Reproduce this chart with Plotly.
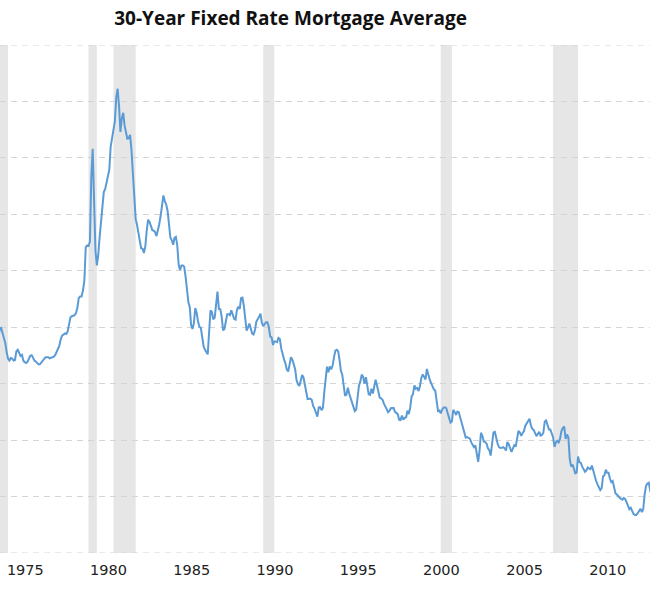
import plotly.graph_objects as go
import pandas as pd

# Monthly 30-year fixed mortgage rate averages (%), Jan 1974 .. Dec 2013
start_month = "1974-01-01"
rates = [
    8.54, 8.46, 8.41, 8.58, 8.97, 9.09, 9.28, 9.59, 9.96, 9.98, 9.79, 9.62,  # 1974
    9.43, 9.10, 8.89, 8.82, 8.91, 8.89, 8.82, 8.84, 9.15, 9.20, 9.05, 8.98,  # 1975
    9.02, 8.81, 8.76, 8.73, 8.77, 8.92, 8.99, 9.01, 8.91, 8.82, 8.78, 8.73,  # 1976
    8.68, 8.69, 8.75, 8.82, 8.86, 8.94, 8.94, 8.94, 8.90, 8.92, 8.92, 8.96,  # 1977
    9.02, 9.15, 9.20, 9.35, 9.57, 9.71, 9.74, 9.78, 9.76, 9.86, 10.11, 10.35,  # 1978
    10.39, 10.41, 10.43, 10.50, 10.69, 11.04, 11.09, 11.09, 11.30, 11.64, 12.83, 12.90,  # 1979
    12.88, 13.04, 15.28, 16.32, 14.26, 12.71, 12.19, 12.56, 13.20, 13.79, 14.21, 14.79,  # 1980
    14.90, 15.13, 15.40, 15.58, 16.40, 16.70, 16.83, 17.29, 18.16, 18.45, 17.83, 16.92,  # 1981
    17.40, 17.60, 17.16, 16.89, 16.68, 16.70, 16.82, 16.27, 15.43, 14.61, 13.83, 13.62,  # 1982
    13.25, 13.04, 12.80, 12.78, 12.63, 12.87, 13.42, 13.81, 13.73, 13.54, 13.44, 13.42,  # 1983
    13.37, 13.23, 13.39, 13.65, 13.94, 14.42, 14.67, 14.47, 14.35, 14.13, 13.64, 13.18,  # 1984
    13.08, 12.92, 13.17, 13.20, 12.91, 12.22, 12.03, 12.19, 12.19, 12.14, 11.78, 11.26,  # 1985
    10.88, 10.71, 10.08, 9.94, 10.14, 10.68, 10.51, 10.20, 10.01, 9.98, 9.70, 9.32,  # 1986
    9.20, 9.08, 9.04, 9.83, 10.60, 10.54, 10.28, 10.33, 10.89, 11.26, 10.65, 10.64,  # 1987
    10.38, 9.89, 9.93, 10.20, 10.46, 10.46, 10.43, 10.60, 10.48, 10.30, 10.27, 10.61,  # 1988
    10.73, 10.65, 11.03, 11.05, 10.77, 10.20, 9.88, 9.99, 10.13, 9.95, 9.77, 9.74,  # 1989
    9.90, 10.20, 10.27, 10.37, 10.48, 10.16, 10.04, 10.10, 10.18, 10.18, 10.01, 9.67,  # 1990
    9.64, 9.37, 9.50, 9.49, 9.47, 9.62, 9.58, 9.24, 9.01, 8.86, 8.71, 8.50,  # 1991
    8.43, 8.76, 8.94, 8.85, 8.67, 8.51, 8.13, 7.98, 7.92, 8.09, 8.31, 8.22,  # 1992
    7.92, 7.71, 7.46, 7.46, 7.47, 7.42, 7.21, 7.11, 6.92, 6.83, 7.16, 7.17,  # 1993
    7.06, 7.15, 7.68, 8.32, 8.60, 8.40, 8.61, 8.51, 8.64, 8.93, 9.17, 9.20,  # 1994
    9.15, 8.83, 8.46, 8.32, 7.96, 7.57, 7.61, 7.86, 7.64, 7.48, 7.38, 7.20,  # 1995
    7.03, 7.08, 7.62, 7.93, 8.07, 8.32, 8.25, 8.00, 8.23, 7.92, 7.62, 7.60,  # 1996
    7.82, 7.65, 7.90, 8.14, 7.94, 7.69, 7.50, 7.48, 7.43, 7.29, 7.21, 7.10,  # 1997
    6.99, 7.04, 7.13, 7.14, 7.14, 7.00, 6.95, 6.92, 6.72, 6.71, 6.87, 6.72,  # 1998
    6.79, 6.81, 7.04, 6.92, 7.15, 7.55, 7.63, 7.94, 7.82, 7.85, 7.74, 7.91,  # 1999
    8.21, 8.33, 8.24, 8.15, 8.52, 8.29, 8.15, 8.03, 7.91, 7.80, 7.75, 7.38,  # 2000
    7.03, 7.05, 6.95, 7.08, 7.15, 7.16, 7.13, 6.95, 6.82, 6.62, 6.66, 7.07,  # 2001
    7.00, 6.89, 7.01, 6.99, 6.81, 6.65, 6.49, 6.29, 6.09, 6.11, 6.07, 6.05,  # 2002
    5.92, 5.84, 5.75, 5.81, 5.48, 5.23, 5.63, 6.26, 6.15, 5.95, 5.93, 5.88,  # 2003
    5.71, 5.64, 5.45, 5.83, 6.27, 6.29, 6.06, 5.87, 5.75, 5.72, 5.73, 5.75,  # 2004
    5.71, 5.63, 5.93, 5.86, 5.72, 5.58, 5.70, 5.82, 5.77, 6.07, 6.33, 6.27,  # 2005
    6.15, 6.25, 6.32, 6.51, 6.60, 6.68, 6.76, 6.52, 6.40, 6.36, 6.24, 6.14,  # 2006
    6.22, 6.29, 6.16, 6.18, 6.26, 6.66, 6.70, 6.57, 6.38, 6.38, 6.21, 6.10,  # 2007
    5.76, 5.92, 5.97, 5.92, 6.04, 6.32, 6.43, 6.48, 6.04, 6.20, 6.09, 5.33,  # 2008
    5.06, 5.13, 5.00, 4.81, 4.86, 5.42, 5.22, 5.19, 5.06, 4.95, 4.88, 4.93,  # 2009
    5.03, 4.99, 4.97, 5.10, 4.89, 4.74, 4.56, 4.43, 4.35, 4.23, 4.30, 4.71,  # 2010
    4.76, 4.95, 4.84, 4.84, 4.64, 4.51, 4.55, 4.27, 4.11, 4.07, 3.99, 3.96,  # 2011
    3.92, 3.89, 3.95, 3.91, 3.80, 3.68, 3.55, 3.60, 3.50, 3.38, 3.35, 3.35,  # 2012
    3.41, 3.53, 3.57, 3.45, 3.54, 4.07, 4.37, 4.46, 4.49, 4.22, 4.26, 4.46,  # 2013
]
dates = pd.date_range(start_month, periods=len(rates), freq="MS")

# NBER recessions
recession_starts = ["1973-11-01", "1980-01-01", "1981-07-01", "1990-07-01", "2001-03-01", "2007-12-01"]
recession_ends = ["1975-03-01", "1980-07-01", "1982-11-01", "1991-03-01", "2001-11-01", "2009-06-01"]

tick_years = [1975, 1980, 1985, 1990, 1995, 2000, 2005, 2010]
y_min, y_max = 2, 20

fig = go.Figure()
fig.add_trace(go.Scatter(
    x=dates, y=rates, mode="lines",
    line=dict(color="#5b9bd5", width=2),
    hoverinfo="skip", showlegend=False,
))

for s, e in zip(recession_starts, recession_ends):
    fig.add_shape(type="rect", xref="x", yref="paper", x0=s, x1=e, y0=0, y1=1,
                  fillcolor="#e6e6e6", line=dict(width=0), layer="below")

# dashed grid lines at the plot's top and bottom edges
for yv in (y_min, y_max):
    fig.add_shape(type="line", xref="paper", yref="y", x0=0, x1=1, y0=yv, y1=yv,
                  line=dict(color="#d4d4d4", width=1, dash="6px,5px"), layer="below")

fig.update_layout(
    width=650, height=600,
    margin=dict(l=0, r=0, t=45, b=47, autoexpand=False),
    paper_bgcolor="white", plot_bgcolor="white",
    title=dict(text="<b>30-Year Fixed Rate Mortgage Average</b>", x=0.447, xanchor="center",
               y=0.97, yanchor="middle", yref="container",
               font=dict(family="Open Sans", size=19, color="#111111")),
    showlegend=False,
)
fig.update_xaxes(
    range=["1974-09-06", "2013-09-27"],
    tickvals=[f"{y}-01-01" for y in tick_years],
    ticktext=[str(y) for y in tick_years],
    ticklabelshift=20, ticklabelstandoff=6, ticks="", showgrid=False, zeroline=False, showline=False,
    tickfont=dict(family="DejaVu Sans", size=14.5, color="#222222"),
    automargin=False,
)
fig.update_yaxes(
    range=[y_min, y_max], dtick=2, tick0=0, showticklabels=False, ticks="",
    showgrid=True, gridcolor="#d4d4d4", griddash="6px,5px", gridwidth=1,
    zeroline=False, showline=False, automargin=False,
)

fig.write_html("out.html", config={"displayModeBar": False},
               post_script="document.body.style.margin='0';")
